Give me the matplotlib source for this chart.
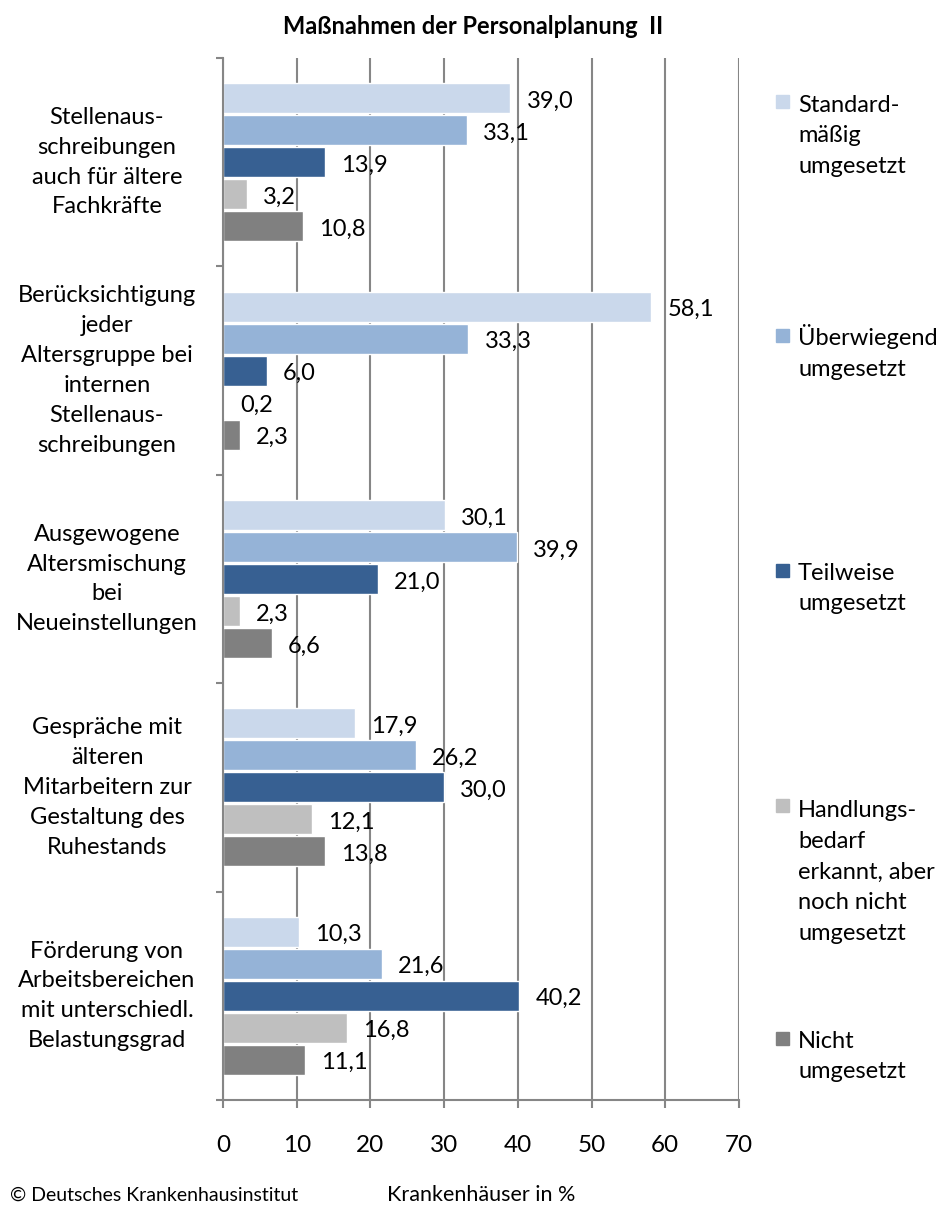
import numpy as np
import matplotlib.pyplot as plt
from matplotlib.patches import Rectangle
from matplotlib.transforms import blended_transform_factory

plt.rcParams['font.family'] = ['Lato', 'DejaVu Sans']

# Data (Krankenhäuser in %)
categories = [
    'Stellenaus-\nschreibungen\nauch für ältere\nFachkräfte',
    'Berücksichtigung\njeder\nAltersgruppe bei\ninternen\nStellenaus-\nschreibungen',
    'Ausgewogene\nAltersmischung\nbei\nNeueinstellungen',
    'Gespräche mit\nälteren\nMitarbeitern zur\nGestaltung des\nRuhestands',
    'Förderung von\nArbeitsbereichen\nmit unterschiedl.\nBelastungsgrad',
]
series_names = [
    'Standard-\nmäßig\numgesetzt',
    'Überwiegend\numgesetzt',
    'Teilweise\numgesetzt',
    'Handlungs-\nbedarf\nerkannt, aber\nnoch nicht\numgesetzt',
    'Nicht\numgesetzt',
]
standard = [39.0, 58.1, 30.1, 17.9, 10.3]
ueberwiegend = [33.1, 33.3, 39.9, 26.2, 21.6]
teilweise = [13.9, 6.0, 21.0, 30.0, 40.2]
handlungsbedarf = [3.2, 0.2, 2.3, 12.1, 16.8]
nicht = [10.8, 2.3, 6.6, 13.8, 11.1]
x_ticks = [0, 10, 20, 30, 40, 50, 60, 70]

series = [standard, ueberwiegend, teilweise, handlungsbedarf, nicht]
colors = ['#CAD8EB', '#95B3D7', '#376092', '#BFBFBF', '#808080']
grid_col = '#868686'

W, H = 944, 1208
fig = plt.figure(figsize=(W / 100, H / 100), dpi=100)
ax = fig.add_axes([223 / W, 1 - 1100 / H, 516 / W, 1042 / H])

y = np.arange(len(categories))
bar_h = 0.144
step = 0.1535

for i, (vals, col) in enumerate(zip(series, colors)):
    pos = y + (i - 2) * step
    ax.barh(pos, vals, height=bar_h, color=col, edgecolor='white',
            linewidth=1, zorder=2)
    for p, v in zip(pos, vals):
        ax.annotate(f'{v:.1f}'.replace('.', ','), (v, p),
                    xytext=(16, -3), textcoords='offset pixels',
                    ha='left', va='center', fontsize=17, zorder=3)

ax.set_xlim(0, 70)
ax.set_ylim(len(categories) - 0.5, -0.5)
ax.set_xticks(x_ticks)
ax.set_yticks(np.arange(-0.5, len(categories), 1))
ax.set_yticklabels([])
ax.set_axisbelow(True)
ax.xaxis.grid(True, color=grid_col, linewidth=1.5)

for s in ['top', 'right']:
    ax.spines[s].set_visible(False)
for s in ['left', 'bottom']:
    ax.spines[s].set_color(grid_col)
    ax.spines[s].set_linewidth(1.5)
ax.tick_params(axis='x', length=6, width=1.5, color=grid_col, pad=19,
               labelsize=17.5)
ax.tick_params(axis='y', length=5, width=1.5, color=grid_col)

# category labels on the left
trans = blended_transform_factory(fig.transFigure, ax.transData)
for yi, cat in zip(y, categories):
    fig.text(107 / W, yi, cat, transform=trans, ha='center', va='center',
             fontsize=17, linespacing=1.52)

# legend on the right (baseline of the last line is used for multi-line text)
leg_y = [102, 336, 571, 806, 1039]
line_step = 31.5
for name, col, ly in zip(series_names, colors, leg_y):
    fig.add_artist(Rectangle((776 / W, 1 - (ly + 6) / H), 13 / W, 13 / H,
                             transform=fig.transFigure, color=col))
    n_extra = name.count('\n')
    fig.text(798 / W, 1 - (ly + 8 + n_extra * line_step) / H, name,
             ha='left', va='baseline', fontsize=17, linespacing=1.57)

fig.text(473 / W, 1 - 27 / H, 'Maßnahmen der Personalplanung  II',
         ha='center', va='center', fontsize=17, fontweight='bold')
fig.text(481 / W, 1 - 1195 / H, 'Krankenhäuser in %', ha='center',
         va='center', fontsize=15.5)
fig.text(10 / W, 1 - 1195 / H, '© Deutsches Krankenhausinstitut',
         ha='left', va='center', fontsize=14)

fig.savefig('out.png', dpi=100)
